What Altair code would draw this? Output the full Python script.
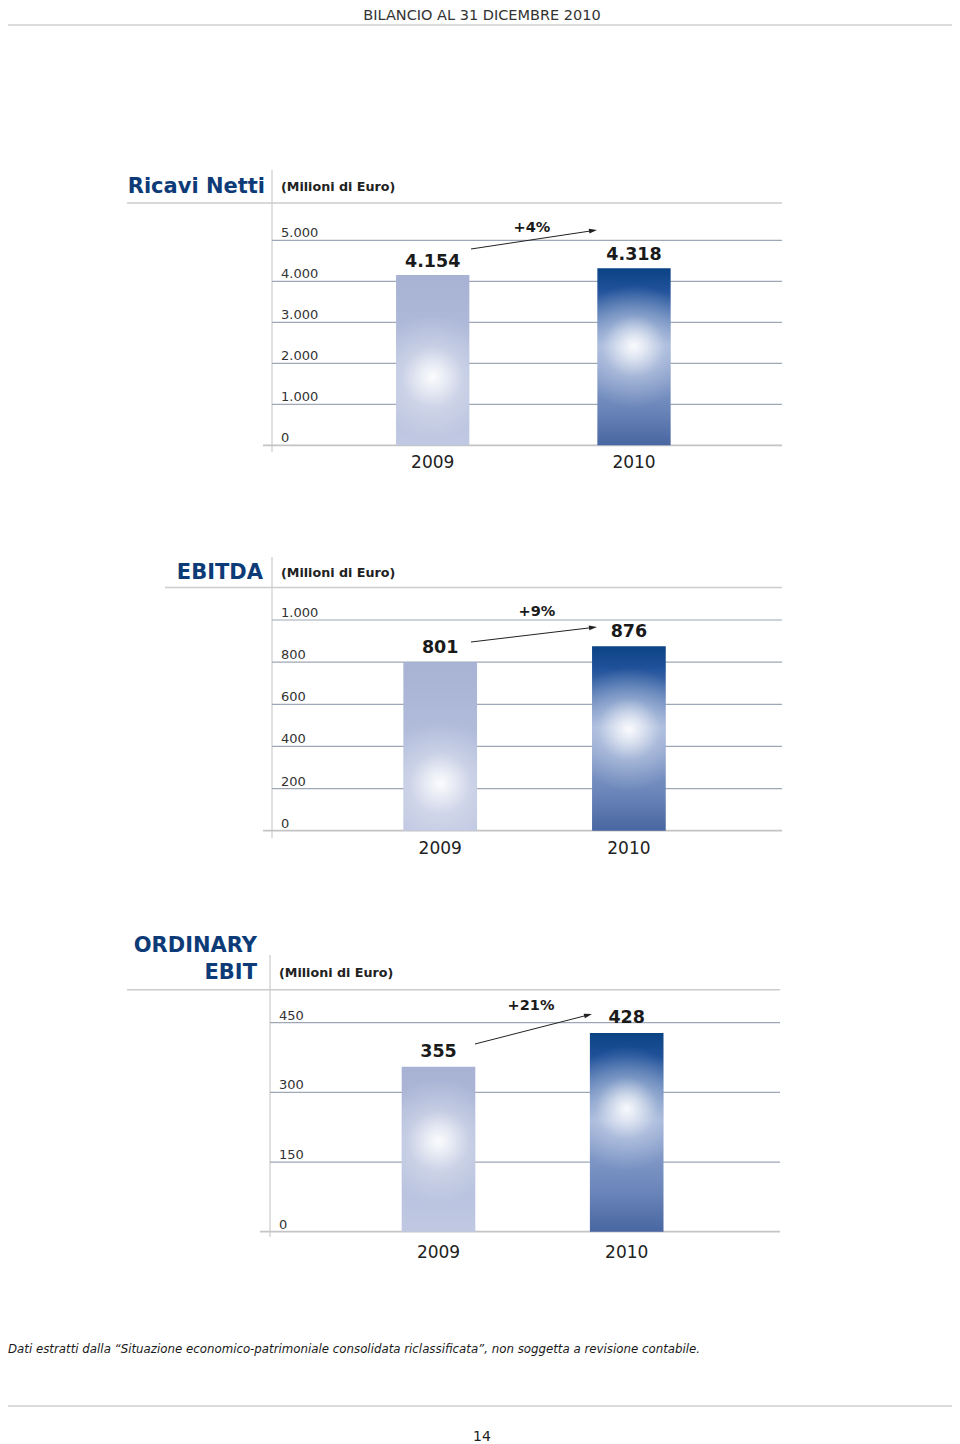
import math
import altair as alt
import pandas as pd

# ---------------- data ----------------
years = ["2009", "2010"]

ricavi_values = [4154, 4318]
ricavi_labels = ["4.154", "4.318"]
ricavi_ticks = [0, 1000, 2000, 3000, 4000, 5000]
ricavi_tick_labels = ["0", "1.000", "2.000", "3.000", "4.000", "5.000"]
ricavi_growth = "+4%"

ebitda_values = [801, 876]
ebitda_labels = ["801", "876"]
ebitda_ticks = [0, 200, 400, 600, 800, 1000]
ebitda_tick_labels = ["0", "200", "400", "600", "800", "1.000"]
ebitda_growth = "+9%"

ebit_values = [355, 428]
ebit_labels = ["355", "428"]
ebit_ticks = [0, 150, 300, 450]
ebit_tick_labels = ["0", "150", "300", "450"]
ebit_growth = "+21%"

panel_titles = [["Ricavi Netti"], ["EBITDA"], ["ORDINARY", "EBIT"]]
unit_label = "(Milioni di Euro)"
header_text = "BILANCIO AL 31 DICEMBRE 2010"
footer_text = ("Dati estratti dalla \u201cSituazione economico-patrimoniale consolidata "
               "riclassificata\u201d, non soggetta a revisione contabile.")
page_number = "14"

# ---------------- style / layout (page pixel coordinates) ----------------
OFF = 8  # body margin of the page
FONT = "DejaVu Sans"
TITLE_COLOR = "#0d3b78"
GRID_COLOR = "#9ea7b6"
LIGHT_LINE = "#cccccc"

panel_styles = [
    dict(values=ricavi_values, labels=ricavi_labels, ticks=ricavi_ticks,
         tick_labels=ricavi_tick_labels, growth=ricavi_growth,
         title_right=265, title_ys=[186.5], sub_x=281, sub_y=187,
         rule_y=203, rule_x0=127, rule_x1=782,
         vline_x=272, vline_y0=170, vline_y1=452,
         grid_x0=272, grid_x1=782, zero_x0=263,
         y0=445.3, ytop=240.3, dmax=5000,
         c0=432.7, c1=634.0, bw=73.3, tick_x=281, year_y=463,
         arrow=(471, 249, 597, 230), growth_xy=(532, 228),
         glow=[0.60, 0.44], label_dy=-13),
    dict(values=ebitda_values, labels=ebitda_labels, ticks=ebitda_ticks,
         tick_labels=ebitda_tick_labels, growth=ebitda_growth,
         title_right=263, title_ys=[573], sub_x=281, sub_y=573,
         rule_y=587.5, rule_x0=165, rule_x1=782,
         vline_x=272, vline_y0=557, vline_y1=838,
         grid_x0=272, grid_x1=782, zero_x0=263,
         y0=830.7, ytop=620.0, dmax=1000,
         c0=440.2, c1=628.9, bw=73.7, tick_x=281, year_y=849,
         arrow=(471, 642, 597, 627), growth_xy=(537, 612),
         glow=[0.72, 0.45], label_dy=-14),
    dict(values=ebit_values, labels=ebit_labels, ticks=ebit_ticks,
         tick_labels=ebit_tick_labels, growth=ebit_growth,
         title_right=257, title_ys=[946, 973], sub_x=279, sub_y=973,
         rule_y=989.7, rule_x0=127, rule_x1=780,
         vline_x=270, vline_y0=955, vline_y1=1237,
         grid_x0=270, grid_x1=780, zero_x0=260,
         y0=1231.7, ytop=1022.7, dmax=450,
         c0=438.5, c1=626.7, bw=73.6, tick_x=279, year_y=1253,
         arrow=(475, 1044, 592, 1014), growth_xy=(531, 1005.7),
         glow=[0.45, 0.38], label_dy=-15),
]

BASE_2009 = [(0, "#a7b2d4"), (0.5, "#b3bedc"), (1, "#c0c8e2")]
BASE_2010 = [(0, "#0a4384"), (0.12, "#20519a"), (0.44, "#95aad4"),
             (0.8, "#6a85b9"), (1, "#4866a1")]


def P(v):
    return v - OFF


def linear_grad(stops):
    return {"gradient": "linear", "x1": 0, "y1": 0, "x2": 0, "y2": 1,
            "stops": [{"offset": o, "color": c} for o, c in stops]}


def glow_grad(cy, r):
    return {"gradient": "radial", "x1": 0.5, "y1": cy, "r1": 0,
            "x2": 0.5, "y2": cy, "r2": r,
            "stops": [{"offset": 0, "color": "rgba(255,255,255,0.95)"},
                      {"offset": 0.2, "color": "rgba(255,255,255,0.7)"},
                      {"offset": 0.5, "color": "rgba(255,255,255,0.28)"},
                      {"offset": 1, "color": "rgba(255,255,255,0)"}]}


def one(text):
    return pd.DataFrame({"t": [text]})


ARROW_PATH = "M1,0L-1,-0.6L-1,0.6Z"

layers = []

for titles, st in zip(panel_titles, panel_styles):
    yscale = alt.Scale(domain=[0, st["dmax"]], range=[P(st["y0"]), P(st["ytop"])],
                       nice=False, zero=True)
    c0, c1, bw = P(st["c0"]), P(st["c1"]), st["bw"]
    step = c1 - c0
    pin = 1 - bw / step
    pout = 0.5
    r0 = c0 - pout * step - bw / 2
    r1 = r0 + step * (2 - pin + 2 * pout)
    xscale = alt.Scale(type="band", domain=years, range=[r0, r1],
                       paddingInner=pin, paddingOuter=pout)

    bars = pd.DataFrame({"year": years, "value": st["values"], "label": st["labels"]})
    ticks = pd.DataFrame({"v": st["ticks"], "lab": st["tick_labels"]})
    grid = ticks[ticks["v"] > 0]
    zero = ticks[ticks["v"] == 0]

    # title lines
    for t, ty in zip(titles, st["title_ys"]):
        layers.append(alt.Chart(one(t)).mark_text(
            font=FONT, fontSize=21, fontWeight="bold", color=TITLE_COLOR,
            align="right", baseline="middle").encode(
            x=alt.value(P(st["title_right"])), y=alt.value(P(ty)), text="t:N"))
    layers.append(alt.Chart(one(unit_label)).mark_text(
        font=FONT, fontSize=12.7, fontWeight="bold", color="#222222",
        align="left", baseline="middle").encode(
        x=alt.value(P(st["sub_x"])), y=alt.value(P(st["sub_y"])), text="t:N"))
    # title underline and vertical separator
    layers.append(alt.Chart(one("")).mark_rule(color=LIGHT_LINE, strokeWidth=1.6).encode(
        x=alt.value(P(st["rule_x0"])), x2=alt.value(P(st["rule_x1"])),
        y=alt.value(P(st["rule_y"]))))
    layers.append(alt.Chart(one("")).mark_rule(color=LIGHT_LINE, strokeWidth=1.2).encode(
        x=alt.value(P(st["vline_x"])), y=alt.value(P(st["vline_y0"])),
        y2=alt.value(P(st["vline_y1"]))))

    # gridlines
    layers.append(alt.Chart(grid).mark_rule(color=GRID_COLOR, strokeWidth=1.2).encode(
        y=alt.Y("v:Q", scale=yscale, axis=None),
        x=alt.value(P(st["grid_x0"])), x2=alt.value(P(st["grid_x1"]))))
    layers.append(alt.Chart(zero).mark_rule(color="#c4c4c4", strokeWidth=1.8).encode(
        y=alt.Y("v:Q", scale=yscale, axis=None),
        x=alt.value(P(st["zero_x0"])), x2=alt.value(P(st["grid_x1"]))))
    # tick labels
    layers.append(alt.Chart(ticks).mark_text(
        font=FONT, fontSize=13, color="#333333", align="left", baseline="middle",
        dy=-7).encode(
        y=alt.Y("v:Q", scale=yscale, axis=None),
        x=alt.value(P(st["tick_x"])), text="lab:N"))

    # bars with gradient fills
    for i, yr in enumerate(years):
        row = bars[bars["year"] == yr]
        base = BASE_2009 if i == 0 else BASE_2010
        h = (st["y0"] - st["ytop"]) * st["values"][i] / st["dmax"]
        r = min(0.5, 62 / h)
        enc = dict(x=alt.X("year:N", scale=xscale, axis=None),
                   y=alt.Y("value:Q", scale=yscale, axis=None))
        layers.append(alt.Chart(row).mark_bar(fill=linear_grad(base), stroke=None).encode(**enc))
        layers.append(alt.Chart(row).mark_bar(fill=glow_grad(st["glow"][i], r),
                                              stroke=None).encode(**enc))

    # value labels
    layers.append(alt.Chart(bars).mark_text(
        font=FONT, fontSize=17.5, fontWeight="bold", color="#1a1a1a",
        align="center", baseline="middle", dy=st["label_dy"]).encode(
        x=alt.X("year:N", scale=xscale, axis=None),
        y=alt.Y("value:Q", scale=yscale, axis=None), text="label:N"))
    # year labels
    layers.append(alt.Chart(bars).mark_text(
        font=FONT, fontSize=17, color="#222222", align="center", baseline="middle").encode(
        x=alt.X("year:N", scale=xscale, axis=None),
        y=alt.value(P(st["year_y"])), text="year:N"))

    # growth arrow
    ax0, ay0, ax1, ay1 = st["arrow"]
    ln = math.hypot(ax1 - ax0, ay1 - ay0)
    ux, uy = (ax1 - ax0) / ln, (ay1 - ay0) / ln
    ang = math.degrees(math.atan2(ay1 - ay0, ax1 - ax0)) % 360
    layers.append(alt.Chart(one("")).mark_rule(color="#222222", strokeWidth=1).encode(
        x=alt.value(P(ax0)), y=alt.value(P(ay0)),
        x2=alt.value(P(ax1 - 6 * ux)), y2=alt.value(P(ay1 - 6 * uy))))
    layers.append(alt.Chart(one("")).mark_point(
        shape=ARROW_PATH, filled=True, color="#222222", opacity=1, size=64,
        angle=ang).encode(
        x=alt.value(P(ax1 - 4 * ux)), y=alt.value(P(ay1 - 4 * uy))))
    gx, gy = st["growth_xy"]
    layers.append(alt.Chart(one(st["growth"])).mark_text(
        font=FONT, fontSize=14.5, fontWeight="bold", color="#1a1a1a",
        align="center", baseline="middle").encode(
        x=alt.value(P(gx)), y=alt.value(P(gy)), text="t:N"))

# page header / footer
layers.append(alt.Chart(one(header_text)).mark_text(
    font=FONT, fontSize=14.5, color="#333333", align="center", baseline="middle").encode(
    x=alt.value(P(482)), y=alt.value(P(16)), text="t:N"))
layers.append(alt.Chart(one("")).mark_rule(color="#cfcfcf", strokeWidth=1.5).encode(
    x=alt.value(P(3)), x2=alt.value(P(957)), y=alt.value(P(25))))
layers.append(alt.Chart(one(footer_text)).mark_text(
    font=FONT, fontSize=11.8, fontStyle="italic", color="#1a1a1a", align="left",
    baseline="middle").encode(
    x=alt.value(P(8)), y=alt.value(P(1349)), text="t:N"))
layers.append(alt.Chart(one("")).mark_rule(color="#cfcfcf", strokeWidth=1.5).encode(
    x=alt.value(P(3)), x2=alt.value(P(957)), y=alt.value(P(1406))))
layers.append(alt.Chart(one(page_number)).mark_text(
    font=FONT, fontSize=14, color="#222222", align="center", baseline="middle").encode(
    x=alt.value(P(482)), y=alt.value(P(1437)), text="t:N"))

chart = alt.layer(*layers).resolve_scale(
    x="independent", y="independent"
).properties(
    width=944, height=1436,
    autosize=alt.AutoSizeParams(type="none"), padding=0,
    background="white"
).configure_view(stroke=None)

chart.save("out.html", embed_options={"renderer": "svg", "actions": False})
